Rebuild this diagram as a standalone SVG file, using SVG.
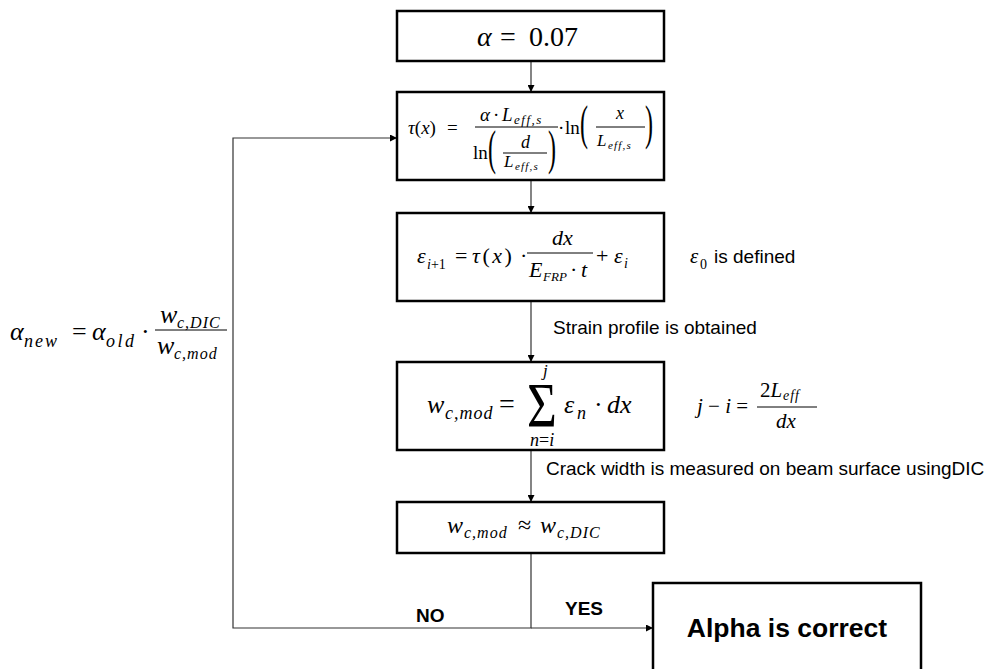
<svg xmlns="http://www.w3.org/2000/svg" width="986" height="669" viewBox="0 0 986 669">
<defs>
<marker id="ah" viewBox="0 0 10 10" refX="10" refY="5" markerWidth="7" markerHeight="7" markerUnits="userSpaceOnUse" orient="auto">
<path d="M0,0 L10,5 L0,10 Z" fill="#000"/>
</marker>
<style>
.box{fill:#fff;stroke:#000;stroke-width:2.5}
.con{fill:none;stroke:#333;stroke-width:1.2}
.m{font-family:"Liberation Serif","DejaVu Serif",serif;fill:#000}
.i{font-style:italic}
.lbl{font-family:"Liberation Sans",Arial,sans-serif;font-size:19px;fill:#000}
.b{font-family:"Liberation Sans",Arial,sans-serif;font-weight:bold;fill:#000}
.bar{stroke:#000;stroke-width:1}
</style>
</defs>
<rect width="986" height="669" fill="#fff"/>

<g id="connectors">
<line class="con" x1="531" y1="61" x2="531" y2="92" marker-end="url(#ah)"/>
<line class="con" x1="531" y1="180" x2="531" y2="213" marker-end="url(#ah)"/>
<line class="con" x1="531" y1="301" x2="531" y2="362" marker-end="url(#ah)"/>
<line class="con" x1="531" y1="450" x2="531" y2="502" marker-end="url(#ah)"/>
<polyline class="con" points="531,553 531,628 233,628 233,138 397,138" marker-end="url(#ah)"/>
<line class="con" x1="531" y1="628" x2="653" y2="628" marker-end="url(#ah)"/>
</g>

<g id="n1">
<rect class="box" x="397" y="11" width="267" height="50"/>
<text class="m i" x="477" y="46" font-size="28">α</text>
<text class="m" x="500" y="46" font-size="28">=</text>
<text class="m" x="529" y="46" font-size="28">0.07</text>
</g>

<g id="n2">
<rect class="box" x="397" y="92" width="267" height="88"/>
<g class="m" font-size="19">
<text x="408" y="134"><tspan class="i">τ</tspan>(<tspan class="i">x</tspan>)</text>
<text x="447" y="134">=</text>
<text class="i" x="480" y="121">α</text>
<text x="493" y="121">·</text>
<text class="i" x="502" y="121">L</text>
<text class="i" x="514" y="124" font-size="13" letter-spacing="1.5">eff,s</text>
<line class="bar" x1="475" y1="127" x2="558" y2="127"/>
<text x="473" y="159">ln</text>
<text transform="translate(488,164) scale(0.5,1)" font-size="48">(</text>
<text class="i" x="521" y="148" font-size="18">d</text>
<line class="bar" x1="503" y1="153" x2="547" y2="153"/>
<text class="i" x="504" y="167" font-size="17">L</text>
<text class="i" x="515" y="170" font-size="11" letter-spacing="1.2">eff,s</text>
<text transform="translate(548,164) scale(0.5,1)" font-size="48">)</text>
<text x="558" y="134">·</text>
<text x="565" y="134">ln</text>
<text transform="translate(580,139) scale(0.5,1)" font-size="48">(</text>
<text class="i" x="616" y="119" font-size="18">x</text>
<line class="bar" x1="596" y1="127" x2="645" y2="127"/>
<text class="i" x="597" y="146" font-size="17">L</text>
<text class="i" x="608" y="149" font-size="11" letter-spacing="1.2">eff,s</text>
<text transform="translate(645,139) scale(0.5,1)" font-size="48">)</text>
</g>
</g>

<g id="n3">
<rect class="box" x="397" y="213" width="267" height="88"/>
<g class="m" font-size="22">
<text class="i" x="417" y="263">ε</text>
<text x="427" y="269" font-size="14"><tspan class="i">i</tspan>+1</text>
<text x="455" y="263">=</text>
<text x="472" y="263" letter-spacing="2.5"><tspan class="i">τ</tspan>(<tspan class="i">x</tspan>)</text>
<text x="520" y="263">·</text>
<text class="i" x="552" y="245">dx</text>
<line class="bar" x1="527" y1="253" x2="593" y2="253"/>
<text class="i" x="529" y="277">E</text>
<text class="i" x="543" y="281" font-size="13">FRP</text>
<text x="570" y="277">·</text>
<text class="i" x="581" y="277">t</text>
<text x="596" y="263">+</text>
<text class="i" x="614" y="263">ε</text>
<text class="i" x="624" y="268" font-size="14">i</text>
</g>
</g>
<g id="t-eps0">
<text class="m i" x="690" y="263" font-size="21">ε</text>
<text class="m" x="700" y="269" font-size="14">0</text>
<text class="lbl" x="714" y="263">is defined</text>
</g>

<g id="t-strain">
<text class="lbl" x="553" y="334">Strain profile is obtained</text>
</g>

<g id="n4">
<rect class="box" x="397" y="362" width="267" height="88"/>
<g class="m" font-size="26">
<text class="i" x="427" y="413">w</text>
<text class="i" x="445" y="419" font-size="18" letter-spacing="1">c,mod</text>
<text x="499" y="413" font-size="28">=</text>
<text transform="translate(527,427) scale(0.8,1)" font-size="64">Σ</text>
<text class="i" x="543" y="376" font-size="17">j</text>
<text class="i" x="530" y="446" font-size="18">n<tspan font-style="normal">=</tspan>i</text>
<text class="i" x="564" y="413">ε</text>
<text class="i" x="577" y="419" font-size="18">n</text>
<text x="594" y="413">·</text>
<text class="i" x="607" y="413">dx</text>
</g>
</g>
<g id="t-ji">
<g class="m" font-size="21">
<text class="i" x="697" y="413">j <tspan font-style="normal">−</tspan> i <tspan font-style="normal">=</tspan></text>
<text x="760" y="397">2<tspan class="i">L</tspan></text>
<text class="i" x="783" y="400" font-size="14" letter-spacing="1">eff</text>
<line class="bar" x1="757" y1="407" x2="817" y2="407"/>
<text class="i" x="776" y="428">dx</text>
</g>
</g>

<g id="t-crack">
<text class="lbl" x="546" y="475">Crack width is measured on beam surface usingDIC</text>
</g>

<g id="n5">
<rect class="box" x="397" y="502" width="267" height="51"/>
<g class="m" font-size="24">
<text class="i" x="447" y="533">w</text>
<text class="i" x="464" y="538" font-size="16" letter-spacing="1">c,mod</text>
<text x="518" y="533">≈</text>
<text class="i" x="540" y="533">w</text>
<text class="i" x="557" y="538" font-size="16" letter-spacing="1">c,DIC</text>
</g>
</g>

<g id="t-alphanew">
<g class="m" font-size="26">
<text class="i" x="10" y="340">α</text>
<text class="i" x="24" y="347" font-size="18" letter-spacing="2">new</text>
<text x="72" y="340">=</text>
<text class="i" x="92" y="340">α</text>
<text class="i" x="106" y="347" font-size="18" letter-spacing="2.5">old</text>
<text x="141" y="340">·</text>
<text class="i" x="160" y="323">w</text>
<text class="i" x="177" y="328" font-size="16" letter-spacing="1">c,DIC</text>
<line class="bar" x1="155" y1="330" x2="227" y2="330"/>
<text class="i" x="157" y="354">w</text>
<text class="i" x="174" y="359" font-size="16" letter-spacing="1">c,mod</text>
</g>
</g>

<g id="t-no"><text class="b" x="416" y="622" font-size="19">NO</text></g>
<g id="t-yes"><text class="b" x="565" y="615" font-size="19">YES</text></g>

<g id="n6">
<rect class="box" x="653" y="583" width="268" height="100"/>
<text class="b" x="787" y="637" font-size="26.5" text-anchor="middle">Alpha is correct</text>
</g>
</svg>
